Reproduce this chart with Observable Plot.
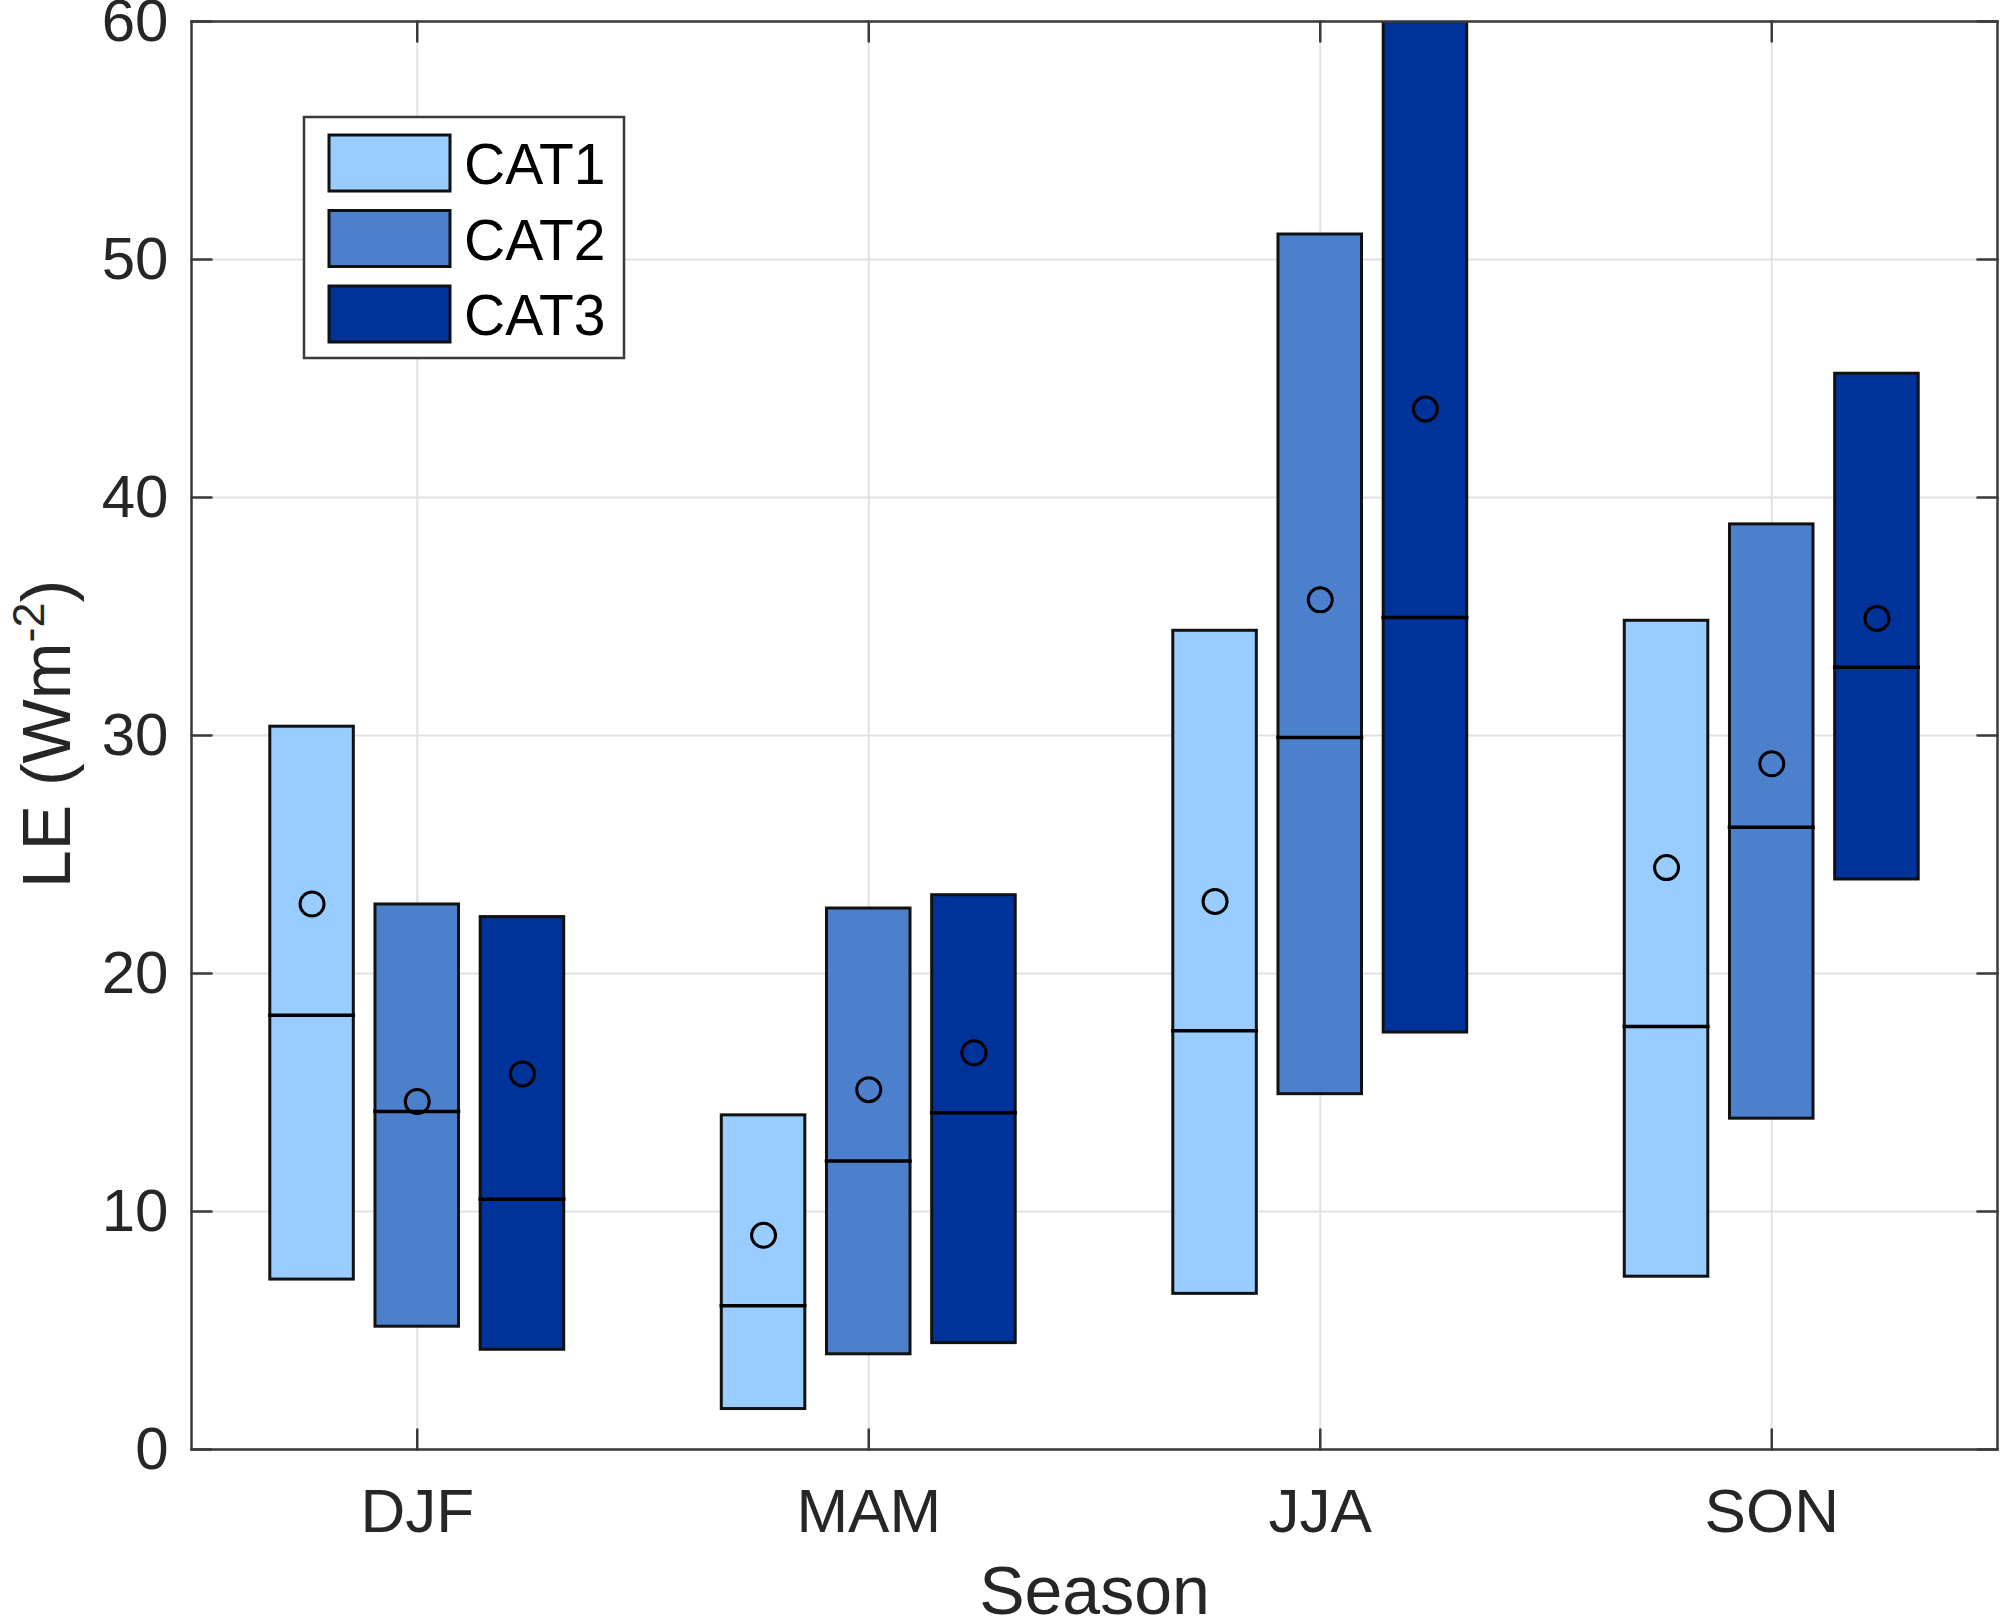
<!DOCTYPE html>
<html><head><meta charset="utf-8">
<script src="https://cdn.jsdelivr.net/npm/d3@7"></script>
<script src="https://cdn.jsdelivr.net/npm/@observablehq/plot@0.6"></script>
<style>
html,body{margin:0;padding:0;background:#fff;}
#chart{position:relative;width:2000px;height:1623px;}
svg{display:block}
</style></head><body><div id="chart"></div>
<script>
// ---- data ----
const seasons = ["DJF", "MAM", "JJA", "SON"];
const seasonPos = [1, 2, 3, 4];
const categories = ["CAT1", "CAT2", "CAT3"];
const colors = ["#99ccff", "#4d80cc", "#003399"];
// rows = seasons, columns = CAT1..CAT3
const upper = [[30.37, 22.9, 22.37], [14.04, 22.73, 23.29], [34.4, 51.05, 61], [34.82, 38.87, 45.2]];
const lower = [[7.14, 5.16, 4.19], [1.7, 4.0, 4.47], [6.54, 14.93, 17.52], [7.26, 13.9, 23.95]];
const median = [[18.25, 14.2, 10.51], [6.04, 12.12, 14.15], [17.59, 29.92, 34.96], [17.77, 26.14, 32.87]];
const mean = [[22.92, 14.62, 15.78], [9.0, 15.12, 16.67], [23.03, 35.7, 43.72], [24.45, 28.81, 34.92]];
const yTicks = [0, 10, 20, 30, 40, 50, 60];
const xLabel = "Season";
const yLabelMain = "LE (Wm";
const yLabelSup = "-2";
const yLabelEnd = ")";

// ---- layout ----
const groupOffset = 0.233, barWidth = 0.185;
const rows = [];
seasons.forEach((s, i) => categories.forEach((c, j) => rows.push({
  season: s, cat: c, pos: seasonPos[i] + (j - 1) * groupOffset,
  lo: lower[i][j], hi: upper[i][j], med: median[i][j], mean: mean[i][j]
})));

const axisColor = "#3a3a3a";
const fontFam = "'Liberation Sans', Arial, sans-serif";
const tickShape = {draw(ctx, l) { ctx.moveTo(0, 0); ctx.lineTo(0, -l); }};
const tickOpts = {length: 20, anchor: "start", shape: tickShape, stroke: axisColor, strokeWidth: 2.5};

const plot = Plot.plot({
  width: 2000, height: 1623,
  marginLeft: 191, marginRight: 3, marginTop: 21, marginBottom: 174,
  style: {fontFamily: fontFam, background: "#ffffff", color: "#262626"},
  x: {type: "linear", domain: [0.5, 4.5]},
  y: {domain: [0, 60]},
  color: {domain: categories, range: colors},
  marks: [
    Plot.gridY({ticks: yTicks, stroke: "#e2e2e2", strokeOpacity: 1, strokeWidth: 2}),
    Plot.gridX({ticks: seasonPos, stroke: "#e2e2e2", strokeOpacity: 1, strokeWidth: 2}),
    Plot.rect(rows, {x1: d => d.pos - barWidth / 2, x2: d => d.pos + barWidth / 2, y1: "lo", y2: "hi",
      fill: "cat", stroke: "#111111", strokeWidth: 3, clip: true}),
    Plot.ruleY(rows, {y: "med", x1: d => d.pos - barWidth / 2, x2: d => d.pos + barWidth / 2,
      stroke: "#000000", strokeWidth: 3.5, strokeLinecap: "square"}),
    Plot.dot(rows, {x: "pos", y: "mean", r: 12, stroke: "#000000", strokeWidth: 3, fill: "none"}),
    Plot.frame({stroke: axisColor, strokeWidth: 2.5}),
    Plot.vectorY(yTicks, {y: d => d, frameAnchor: "left", rotate: 90, ...tickOpts}),
    Plot.vectorY(yTicks, {y: d => d, frameAnchor: "right", rotate: -90, ...tickOpts}),
    Plot.vectorX(seasonPos, {x: d => d, frameAnchor: "bottom", rotate: 0, ...tickOpts}),
    Plot.vectorX(seasonPos, {x: d => d, frameAnchor: "top", rotate: 180, ...tickOpts}),
    Plot.axisY({ticks: yTicks, tickSize: 0, tickPadding: 23, fontSize: 60, label: null, tickFormat: d => String(d)}),
    Plot.axisX({ticks: seasonPos, tickSize: 0, tickPadding: 38, fontSize: 62, label: null, tickFormat: d => seasons[d - 1]}),
    Plot.text([xLabel], {text: d => d, frameAnchor: "bottom", dy: 164, lineAnchor: "bottom", fontSize: 68, fill: "#262626"})
  ]
});
document.getElementById("chart").appendChild(plot);

// ---- y label with superscript ----
const svg = d3.select(plot);
const yl = svg.append("text")
  .attr("transform", "translate(70,734) rotate(-90)")
  .attr("text-anchor", "middle")
  .attr("fill", "#262626")
  .style("font-family", fontFam)
  .style("font-size", "68px");
yl.append("tspan").text(yLabelMain);
yl.append("tspan").attr("dy", -26).style("font-size", "45px").text(yLabelSup);
yl.append("tspan").attr("dy", 26).text(yLabelEnd);

// ---- legend (inside the axes, top-left) ----
const lg = svg.append("g").style("font-family", fontFam).attr("text-anchor", "start");
lg.append("rect").attr("x", 304).attr("y", 117).attr("width", 320).attr("height", 241)
  .attr("fill", "#ffffff").attr("stroke", axisColor).attr("stroke-width", 2.5);
categories.forEach((c, i) => {
  lg.append("rect").attr("x", 329).attr("y", 135 + i * 75.5).attr("width", 121).attr("height", 56)
    .attr("fill", colors[i]).attr("stroke", "#111111").attr("stroke-width", 3);
  lg.append("text").attr("x", 464).attr("y", 184 + i * 75.5).attr("fill", "#000000")
    .attr("text-anchor", "start")
    .style("font-size", "57px").text(c);
});
</script>
</body></html>
